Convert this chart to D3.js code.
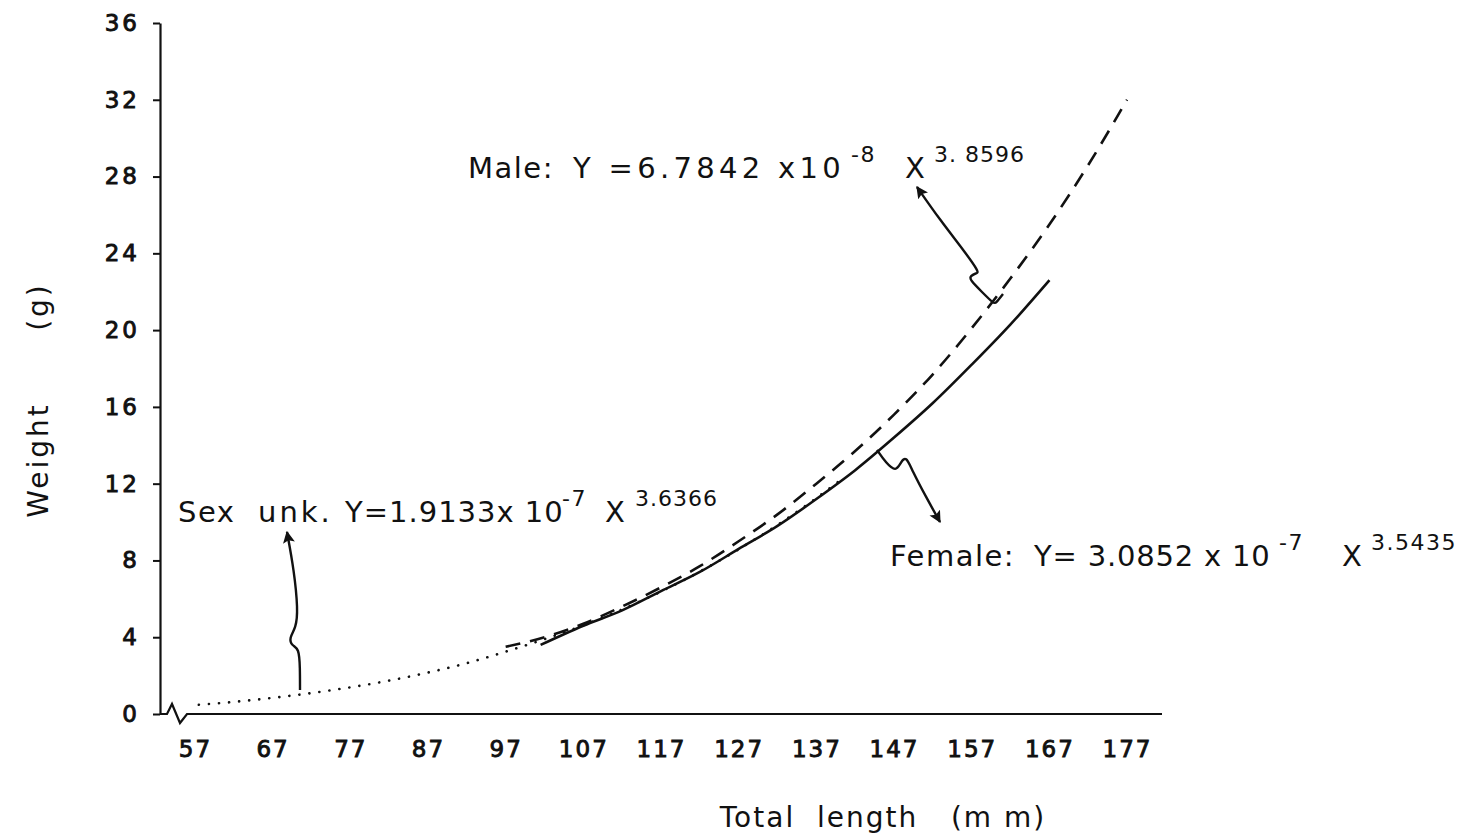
<!DOCTYPE html>
<html>
<head>
<meta charset="utf-8">
<script src="https://cdn.jsdelivr.net/npm/d3@7"></script>
<style>
  body { margin: 0; background: #fff; }
  svg { display: block; }
  text { font-family: "DejaVu Sans", sans-serif; fill: #111; }
</style>
</head>
<body>
<svg id="chart" width="1480" height="835"></svg>
<script>
// tick labels
var xTicks = [57, 67, 77, 87, 97, 107, 117, 127, 137, 147, 157, 167, 177];
var yTicks = [0, 4, 8, 12, 16, 20, 24, 28, 32, 36];

// Sex unknown (dotted)
var unkLength = [57.5, 62, 67, 72, 77, 82, 87, 92, 97, 102, 107, 112, 117, 122, 127, 132, 137, 140];
var unkWeight = [0.48, 0.63, 0.84, 1.09, 1.39, 1.74, 2.16, 2.65, 3.25, 3.9, 4.62, 5.45, 6.38, 7.42, 8.58, 9.85, 11.25, 12.15];

// Female (solid)
var femLength = [101.5, 107, 112, 117, 122, 127, 132, 137, 142, 147, 152, 157, 162, 167];
var femWeight = [3.6, 4.6, 5.4, 6.4, 7.4, 8.6, 9.8, 11.2, 12.7, 14.4, 16.2, 18.2, 20.3, 22.6];

// Male (dashed)
var maleLength = [97, 102, 107, 112, 117, 122, 127, 132, 137, 142, 147, 152, 157, 162, 167, 172, 177];
var maleWeight = [3.5, 4.0, 4.7, 5.6, 6.6, 7.7, 9.0, 10.4, 12.0, 13.7, 15.6, 17.7, 20.1, 22.7, 25.5, 28.6, 32.0];

var svg = d3.select("#chart");

var x = d3.scaleLinear().domain([52.5, 181.5]).range([160, 1162]);
var y = d3.scaleLinear().domain([0, 36]).range([714, 23]);

// y axis
var yAxis = svg.append("g")
    .attr("transform", "translate(" + x.range()[0] + ",0)")
    .call(d3.axisLeft(y).tickValues(yTicks).tickSize(7).tickSizeOuter(0).tickPadding(13));
yAxis.select(".domain").attr("stroke", "#111").attr("stroke-width", 2.2);
yAxis.selectAll(".tick line").attr("stroke", "#111").attr("stroke-width", 2);
yAxis.selectAll(".tick text")
    .attr("font-size", 23)
    .attr("letter-spacing", 3)
    .attr("stroke", "#111")
    .attr("stroke-width", 0.9)
    .style("font-family", "DejaVu Sans");

// x axis (labels only, with a broken baseline)
var xAxis = svg.append("g")
    .attr("transform", "translate(0," + y(0) + ")")
    .call(d3.axisBottom(x).tickValues(xTicks).tickSize(0).tickPadding(27));
xAxis.select(".domain").remove();
xAxis.selectAll(".tick text")
    .attr("font-size", 23)
    .attr("letter-spacing", 2)
    .attr("stroke", "#111")
    .attr("stroke-width", 0.9)
    .style("font-family", "DejaVu Sans");

var x0 = x.range()[0], y0 = y(0);
svg.append("path")
    .attr("d", "M" + x0 + "," + y0 + "L" + (x0 + 7) + "," + y0 + "L" + (x0 + 12) + "," + (y0 - 10) +
        "L" + (x0 + 20) + "," + (y0 + 9) + "L" + (x0 + 27) + "," + y0 + "L" + x.range()[1] + "," + y0)
    .attr("fill", "none")
    .attr("stroke", "#111")
    .attr("stroke-width", 2.2);

// axis titles
svg.append("text")
    .attr("x", 883).attr("y", 827)
    .attr("text-anchor", "middle")
    .attr("font-size", 28)
    .attr("letter-spacing", 2)
    .attr("xml:space", "preserve")
    .text("Total  length   (m m)");

svg.append("text")
    .attr("transform", "translate(48,400) rotate(-90)")
    .attr("text-anchor", "middle")
    .attr("font-size", 28)
    .attr("letter-spacing", 3)
    .attr("xml:space", "preserve")
    .text("Weight      (g)");

// curves
var line = d3.line()
    .x(function (d) { return x(d[0]); })
    .y(function (d) { return y(d[1]); })
    .curve(d3.curveMonotoneX);

svg.append("path")
    .datum(d3.zip(unkLength, unkWeight))
    .attr("d", line)
    .attr("fill", "none")
    .attr("stroke", "#111")
    .attr("stroke-width", 2.6)
    .attr("stroke-linecap", "round")
    .attr("stroke-dasharray", "0.1 10");

svg.append("path")
    .datum(d3.zip(femLength, femWeight))
    .attr("d", line)
    .attr("fill", "none")
    .attr("stroke", "#111")
    .attr("stroke-width", 2.6);

svg.append("path")
    .datum(d3.zip(maleLength, maleWeight))
    .attr("d", line)
    .attr("fill", "none")
    .attr("stroke", "#111")
    .attr("stroke-width", 2.6)
    .attr("stroke-dasharray", "15 10");

// arrow head
svg.append("defs").append("marker")
    .attr("id", "head")
    .attr("viewBox", "0 0 10 10")
    .attr("refX", 9).attr("refY", 5)
    .attr("markerWidth", 5).attr("markerHeight", 5)
    .attr("markerUnits", "strokeWidth")
    .attr("orient", "auto")
    .append("path")
    .attr("d", "M0,0L10,5L0,10L2,5Z")
    .attr("fill", "#111");

var arrow = d3.line().curve(d3.curveBasis);

function drawArrow(pts) {
    svg.append("path")
        .attr("d", arrow(pts))
        .attr("fill", "none")
        .attr("stroke", "#111")
        .attr("stroke-width", 2.4)
        .attr("marker-end", "url(#head)");
}

// male: bracket on the dashed curve, arrow up to label
drawArrow([[1003, 294], [996, 303], [994, 304], [982, 292], [970, 280], [970, 276], [977, 273], [979, 272],
    [965, 252], [940, 220], [917, 187]]);
// female: from solid curve down to label
drawArrow([[877, 450], [886, 463], [896, 472], [901, 462], [906, 456], [912, 470], [926, 497], [940, 522]]);
// sex unk: from dotted curve up to label
drawArrow([[300, 690], [300, 668], [299, 648], [292, 646], [289, 638], [296, 628], [298, 610], [294, 570], [287, 532]]);

// equation labels, each piece placed where it sits in the figure
function equation(py, parts) {
    parts.forEach(function (p) {
        svg.append("text")
            .attr("x", p.x)
            .attr("y", p.sup ? py - 16 : py)
            .attr("font-size", p.sup ? 22 : 29)
            .attr("letter-spacing", p.ls === undefined ? 1.5 : p.ls)
            .attr("xml:space", "preserve")
            .text(p.s);
    });
}

equation(178, [
    { s: "Male:", x: 468 },
    { s: "Y =6.7842 x10", x: 573, ls: 4.3 },
    { s: "-8", x: 851, sup: true },
    { s: "X", x: 905 },
    { s: "3. 8596", x: 934, sup: true, ls: 1 }
]);

equation(566, [
    { s: "Female:", x: 890 },
    { s: "Y= 3.0852 x 10", x: 1034, ls: 0.8 },
    { s: "-7", x: 1279, sup: true },
    { s: "X", x: 1342 },
    { s: "3.5435", x: 1371, sup: true, ls: 1.5 }
]);

equation(522, [
    { s: "Sex", x: 178 },
    { s: "unk.", x: 258, ls: 3 },
    { s: "Y=1.9133x 10", x: 345, ls: 1 },
    { s: "-7", x: 562, sup: true },
    { s: "X", x: 605 },
    { s: "3.6366", x: 635, sup: true, ls: 1 }
]);
</script>
</body>
</html>
